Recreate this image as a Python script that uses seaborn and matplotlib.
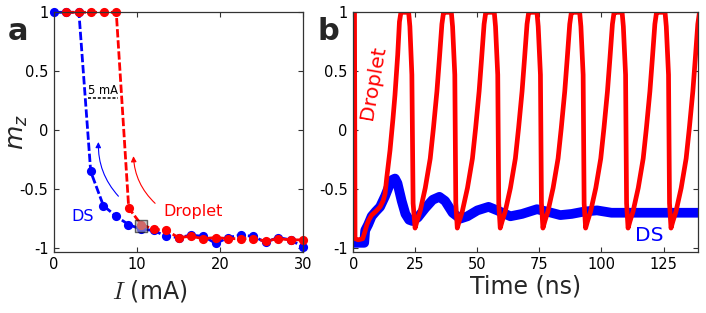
import matplotlib
matplotlib.use("Agg")
import matplotlib.pyplot as plt
import seaborn as sns

# ---------------- data: panel a ----------------
ds_current = [0, 1.5, 3, 4.42, 5.95, 7.48, 8.97, 10.5, 12, 13.5, 15, 16.5, 18, 19.5, 21, 22.5, 24, 25.5, 27, 28.5, 30]
ds_mz = [1, 1, 1, -0.35, -0.64, -0.73, -0.80, -0.84, -0.85, -0.90, -0.91, -0.89, -0.90, -0.96, -0.91, -0.89, -0.90, -0.95, -0.91, -0.93, -0.99]

drop_current = [1.5, 3, 4.5, 6, 7.5, 9, 10.5, 12, 13.5, 15, 16.5, 18, 19.5, 21, 22.5, 24, 25.5, 27, 28.5, 30]
drop_mz = [1, 1, 1, 1, 1, -0.66, -0.80, -0.84, -0.85, -0.91, -0.90, -0.92, -0.91, -0.92, -0.92, -0.92, -0.94, -0.92, -0.93, -0.93]

marked_current = [10.52]
marked_mz = [-0.816]

# ---------------- data: panel b ----------------
drop_time = [0.5, 0.7, 2.0, 3.8, 4.7, 5.5, 6.3, 7.4, 9.0, 10.8, 12.0, 12.8, 13.5, 14.8, 16.0, 16.8, 17.9, 18.6, 19.2,
             22.3, 22.8, 23.6, 24.1,
             24.9, 25.7, 26.9, 29.0, 31.0, 32.3, 33.7, 34.7, 35.7, 36.3, 36.8, 39.5, 40.0, 40.9, 41.3,
             41.9, 42.7, 43.9, 46.0, 48.0, 49.3, 50.7, 51.7, 52.7, 53.3, 53.8, 56.8, 57.3, 58.2, 58.6,
             59.2, 60.0, 61.2, 63.3, 65.3, 66.6, 68.0, 69.0, 70.0, 70.6, 71.1, 74.0, 74.5, 75.4, 75.8,
             76.4, 77.2, 78.4, 80.5, 82.5, 83.8, 85.2, 86.2, 87.2, 87.8, 88.3, 91.2, 91.7, 92.6, 93.0,
             93.6, 94.4, 95.6, 97.7, 99.7, 101.0, 102.4, 103.4, 104.4, 105.0, 105.5, 108.3, 108.8, 109.7, 110.1,
             110.7, 111.5, 112.7, 114.8, 116.8, 118.1, 119.5, 120.5, 121.5, 122.1, 122.6, 125.6, 126.1, 127.0, 127.4,
             128.0, 128.8, 130.0, 132.1, 134.1, 135.4, 136.8, 137.8, 138.8, 139.4]
drop_m = [1.0, -0.92, -0.93, -0.92, -0.86, -0.80, -0.76, -0.72, -0.69, -0.65, -0.60, -0.54, -0.40, -0.17, 0.10, 0.30, 0.64, 0.92, 1.0,
          1.0, 0.88, 0.47, -0.62,
          -0.83, -0.77, -0.69, -0.49, -0.24, 0.02, 0.33, 0.61, 0.90, 0.99, 1.0, 1.0, 0.88, 0.47, -0.62,
          -0.83, -0.77, -0.69, -0.49, -0.24, 0.02, 0.33, 0.61, 0.90, 0.99, 1.0, 1.0, 0.88, 0.47, -0.62,
          -0.83, -0.77, -0.69, -0.49, -0.24, 0.02, 0.33, 0.61, 0.90, 0.99, 1.0, 1.0, 0.88, 0.47, -0.62,
          -0.83, -0.77, -0.69, -0.49, -0.24, 0.02, 0.33, 0.61, 0.90, 0.99, 1.0, 1.0, 0.88, 0.47, -0.62,
          -0.83, -0.77, -0.69, -0.49, -0.24, 0.02, 0.33, 0.61, 0.90, 0.99, 1.0, 1.0, 0.88, 0.47, -0.62,
          -0.83, -0.77, -0.69, -0.49, -0.24, 0.02, 0.33, 0.61, 0.90, 0.99, 1.0, 1.0, 0.88, 0.47, -0.62,
          -0.83, -0.77, -0.69, -0.49, -0.24, 0.02, 0.33, 0.61, 0.90, 0.99]

ds_time = [0.0, 2.0, 4.4, 4.8, 6.0, 7.4, 9.0, 10.8, 12.8, 14.5, 15.8, 16.8, 17.8, 19.5, 21.0, 22.5, 23.8, 26.0, 29.0, 32.0, 34.7, 37.0,
           40.0, 43.1, 46.0, 50.0, 54.5, 58.0, 63.3, 68.0, 74.0, 78.0, 83.4, 88.0, 93.0, 98.2, 104.0, 110.0, 120.0, 130.0, 139.0]
ds_m = [-0.955, -0.955, -0.955, -0.85, -0.80, -0.73, -0.69, -0.65, -0.56, -0.47, -0.42, -0.41, -0.45, -0.60, -0.71, -0.76, -0.77, -0.74, -0.66, -0.59, -0.565, -0.60,
        -0.70, -0.75, -0.73, -0.68, -0.65, -0.68, -0.73, -0.71, -0.67, -0.69, -0.72, -0.71, -0.69, -0.68, -0.70, -0.70, -0.70, -0.70, -0.70]

a_xticks = [0, 10, 20, 30]
b_xticks = [0, 25, 50, 75, 100, 125]
y_ticks = [-1, -0.5, 0, 0.5, 1]
y_ticklabels = ["-1", "-0.5", "0", "0.5", "1"]

# ---------------- style ----------------
sns.set_theme(style="ticks")
plt.rcParams["font.family"] = ["DejaVu Sans"]
plt.rcParams["axes.unicode_minus"] = False
plt.rcParams["axes.edgecolor"] = "#333333"
plt.rcParams["axes.linewidth"] = 0.9

RED = "#ff0000"
BLUE = "#0000ff"

fig = plt.figure(figsize=(7.06, 3.13), dpi=100)
ax1 = fig.add_axes([0.0765, 0.196, 0.3527, 0.7647])
ax2 = fig.add_axes([0.5004, 0.196, 0.4887, 0.7647])

# ---------------- panel a ----------------
dash = (0, (3, 1))
sns.lineplot(x=ds_current, y=ds_mz, ax=ax1, color=BLUE, sort=False, estimator=None,
             linewidth=2.0, linestyle=dash, marker="o", markersize=6.6, markeredgewidth=0, clip_on=False)
sns.lineplot(x=drop_current, y=drop_mz, ax=ax1, color=RED, sort=False, estimator=None,
             linewidth=2.0, linestyle=dash, marker="o", markersize=6.6, markeredgewidth=0, clip_on=False)
sns.scatterplot(x=marked_current, y=marked_mz, ax=ax1, marker="s", s=70, color="#b0b0b0",
                alpha=0.6, edgecolor="black", linewidth=1.0, zorder=5)

ax1.set_xlim(0, 30)
ax1.set_ylim(-1.03, 1.0)
ax1.set_xticks(a_xticks)
ax1.set_yticks(y_ticks)
ax1.set_yticklabels(y_ticklabels)

ax1.plot([4.13, 7.75], [0.277, 0.277], color="black", linestyle=(0, (2, 1.2)), linewidth=1.1)
ax1.text(5.9, 0.34, "5 mA", fontsize=8.3, ha="center", va="center", color="black")
ax1.text(3.45, -0.73, "DS", fontsize=11.5, ha="center", va="center", color=BLUE)
ax1.text(16.7, -0.69, "Droplet", fontsize=11.5, ha="center", va="center", color=RED)
ax1.annotate("", xy=(5.35, -0.10), xytext=(7.76, -0.56),
             arrowprops=dict(arrowstyle="-|>", color=BLUE, lw=0.8, mutation_scale=8,
                             connectionstyle="arc3,rad=-0.2", shrinkA=0, shrinkB=0))
ax1.annotate("", xy=(9.57, -0.22), xytext=(12.18, -0.62),
             arrowprops=dict(arrowstyle="-|>", color=RED, lw=0.8, mutation_scale=8,
                             connectionstyle="arc3,rad=-0.2", shrinkA=0, shrinkB=0))

ax1.set_xlabel(r"$I$ (mA)", fontsize=17, math_fontfamily="cm", labelpad=2)
ax1.xaxis.set_label_coords(0.385, -0.11)
ax1.set_ylabel(r"$m_z$", fontsize=18, math_fontfamily="dejavusans")
ax1.yaxis.set_label_coords(-0.095, 0.5)

# ---------------- panel b ----------------
sns.lineplot(x=ds_time, y=ds_m, ax=ax2, color=BLUE, sort=False, estimator=None,
             linewidth=7, solid_capstyle="butt")
sns.lineplot(x=drop_time, y=drop_m, ax=ax2, color=RED, sort=False, estimator=None,
             linewidth=3.4)
ax2.set_xlim(0, 139)
ax2.set_ylim(-1.03, 1.0)
ax2.set_xticks(b_xticks)
ax2.set_yticks(y_ticks)
ax2.set_yticklabels(y_ticklabels)
ax2.set_xlabel("Time (ns)", fontsize=17, labelpad=2)
ax2.set_ylabel("")
ax2.text(8.1, 0.40, "Droplet", fontsize=14.5, rotation=80, ha="center", va="center", color=RED)
ax2.text(119.4, -0.89, "DS", fontsize=14.5, ha="center", va="center", color=BLUE)

for ax in (ax1, ax2):
    ax.tick_params(direction="in", top=True, right=True, length=3.5, width=0.8,
                   labelsize=10.5, pad=4, colors="#333333", labelcolor="black")
    for s in ax.spines.values():
        s.set_visible(True)
    ax.set_facecolor("white")

fig.text(8 / 706, 1 - 40 / 313, "a", fontsize=22, fontweight="bold", va="baseline", ha="left")
fig.text(318 / 706, 1 - 40 / 313, "b", fontsize=22, fontweight="bold", va="baseline", ha="left")

fig.savefig("out.png", dpi=100, facecolor="white")
